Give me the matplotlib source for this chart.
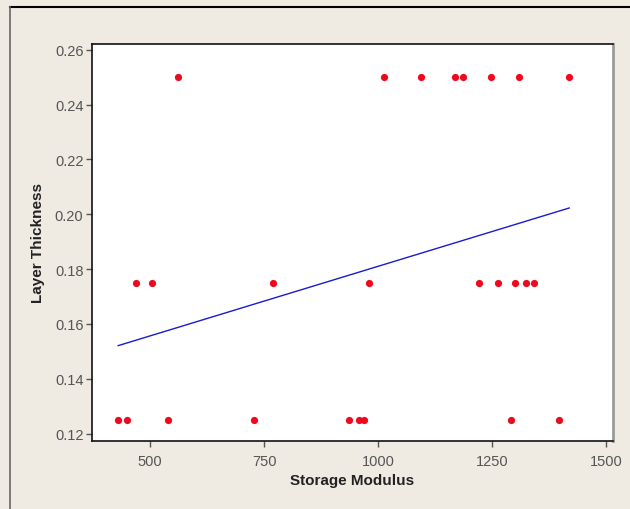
import numpy as np
import matplotlib
matplotlib.use("Agg")
import matplotlib.pyplot as plt
from matplotlib.lines import Line2D

# Data
thick_250 = [561, 1013, 1094, 1169, 1186, 1248, 1309, 1419]
thick_175 = [469, 504, 770, 980, 1221, 1263, 1300, 1325, 1342]
thick_125 = [430, 450, 539, 728, 936, 958, 969, 1292, 1397]
layer_levels = [0.25, 0.175, 0.125]

x_ticks = [500, 750, 1000, 1250, 1500]
y_ticks = [0.12, 0.14, 0.16, 0.18, 0.20, 0.22, 0.24, 0.26]

storage = np.array(thick_250 + thick_175 + thick_125, dtype=float)
layer = np.array([layer_levels[0]] * len(thick_250)
                 + [layer_levels[1]] * len(thick_175)
                 + [layer_levels[2]] * len(thick_125))

plt.rcParams['font.family'] = ['Liberation Sans', 'DejaVu Sans']

bg = '#efebe3'
fig = plt.figure(figsize=(6.3, 5.1), dpi=100, facecolor=bg)
ax = fig.add_axes([0.1456, 0.1333, 0.973 - 0.1456, 0.9118 - 0.1333])
ax.set_facecolor('white')

# fitted line
slope, intercept = np.polyfit(storage, layer, 1)
xf = np.array([storage.min(), storage.max()])
ax.plot(xf, slope * xf + intercept, color='#1a1ad0', lw=1.0, zorder=2)

ax.plot(storage, layer, 'o', color='#ee0a1e', markersize=5.2,
        markeredgewidth=0, zorder=3)

ax.set_xlim(372, 1515)
ax.set_ylim(0.1173, 0.2621)
ax.set_xticks(x_ticks)
ax.set_xticklabels([str(v) for v in x_ticks])
ax.set_yticks(y_ticks)
ax.set_yticklabels([f"{v:.2f}" for v in y_ticks])

ax.tick_params(direction='out', length=4, width=1, colors='#555555',
               labelsize=10.5, top=False, right=False)
ax.tick_params(axis='x', pad=5)
ax.tick_params(axis='y', pad=2)
for s in ['left', 'bottom', 'top']:
    ax.spines[s].set_color('#111111')
    ax.spines[s].set_linewidth(1.2)
ax.spines['right'].set_color('#9a9a9a')
ax.spines['right'].set_linewidth(2.0)

ax.set_xlabel('Storage Modulus', fontsize=11, fontweight='bold',
              color='#222222', labelpad=4)
ax.set_ylabel('Layer Thickness', fontsize=11, fontweight='bold',
              color='#222222', labelpad=7)

# frame lines of the window
fig.add_artist(Line2D([10 / 630, 1], [1 - 8 / 510, 1 - 8 / 510],
                      transform=fig.transFigure, color='black', lw=1.5))
fig.add_artist(Line2D([10 / 630, 10 / 630], [0, 1 - 8 / 510],
                      transform=fig.transFigure, color='#666666', lw=1.2))

fig.savefig('out.png', dpi=100, facecolor=bg)
